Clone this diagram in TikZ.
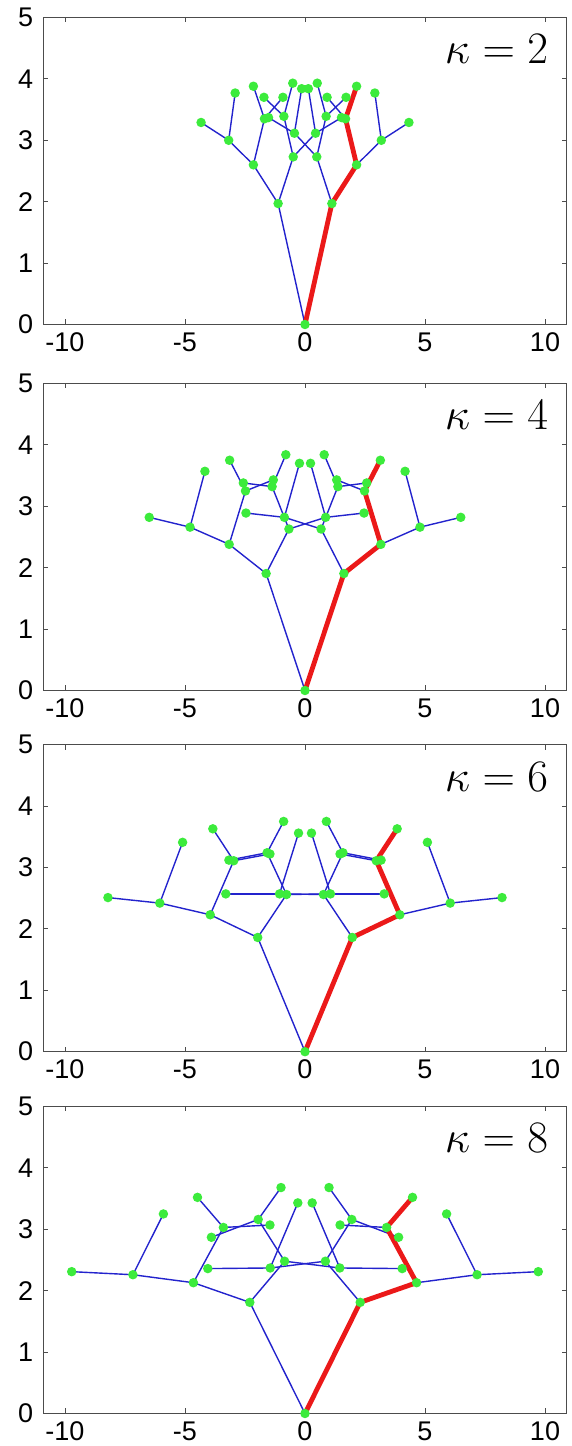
\RequirePackage{fix-cm}
\documentclass[tikz,border=0pt]{standalone}
\usepackage{fontspec}
\setmainfont{Liberation Sans}
\definecolor{treeblue}{RGB}{35,35,205}
\definecolor{treered}{RGB}{235,25,25}
\definecolor{treegreen}{RGB}{60,235,60}
\tikzset{
  blueline/.style={draw=treeblue, line width=1.4pt},
  redline/.style={draw=treered, line width=4.8pt, line join=round, line cap=round},
  dot/.style={circle, fill=treegreen, inner sep=0pt, minimum size=9.5pt},
  axisbox/.style={draw=black!70, line width=0.9pt},
  tickline/.style={draw=black!70, line width=0.8pt},
  ticklab/.style={inner sep=0pt, font=\fontsize{27}{30}\selectfont},
  kappalab/.style={inner sep=0pt, font=\fontsize{45}{50}\selectfont, anchor=base east},
}
\newcommand{\treepanel}[4]{%
\begin{scope}[shift={(305,#2)}, x=24pt, y=61.4pt]
  \draw[axisbox] (-10.9,0) rectangle (10.9,5);
  \foreach \t in {-10,-5,0,5,10}{
    \draw[tickline] (\t,0) -- ++(0,5pt);
    \draw[tickline] (\t,5) -- ++(0,-5pt);
    \node[ticklab, anchor=north] at ([yshift=-8pt]\t,0) {\t};
  }
  \foreach \t in {0,...,5}{
    \draw[tickline] (-10.9,\t) -- ++(5pt,0);
    \draw[tickline] (10.9,\t) -- ++(-5pt,0);
    \node[ticklab, anchor=east] at ([xshift=-10pt]-10.9,\t) {\t};
  }
  \node[kappalab] (#1lab) at (10.14,4.243) {$\kappa = #3$};
  \coordinate (#1R) at (0,0);
  \foreach \n/\xx/\yy in {#4}{
    \coordinate (#1A\n) at (\xx,\yy);
    \coordinate (#1B\n) at ({-1*(\xx)},\yy);
  }
  \foreach \s in {A,B}{
    \draw[blueline] (#1R) -- (#1\s r);
    \foreach \p/\c in {r/1,r/2,1/11,1/12,2/21,2/22,11/111,11/112,12/121,12/122,21/211,21/212,22/221,22/222}{
      \draw[blueline] (#1\s\p) -- (#1\s\c);
    }
  }
  \draw[redline] (#1R) -- (#1Br) -- (#1B1) -- (#1B12) -- (#1B121);
  \node[dot] (#1Rd) at (#1R) {};
  \foreach \s in {A,B}{
    \foreach \n in {r,1,2,11,12,21,22,111,112,121,122,211,212,221,222}{
      \node[dot] (#1\s\n d) at (#1\s\n) {};
    }
  }
\end{scope}}
\begin{document}
\begin{tikzpicture}[x=1pt,y=1pt]
\useasboundingbox (0,0) rectangle (571,1446);
\treepanel{a}{1121.5}{2}{r/-1.12/1.97, 1/-2.15/2.60, 11/-3.18/3.00, 111/-4.33/3.29, 112/-2.91/3.77, 12/-1.69/3.35, 121/-2.15/3.88, 122/-0.92/3.70, 2/-0.49/2.73, 21/0.44/3.115, 211/1.52/3.37, 212/0.14/3.84, 22/-0.88/3.39, 221/-1.71/3.70, 222/-0.51/3.93}
\treepanel{b}{755.5}{4}{r/-1.62/1.905, 1/-3.16/2.38, 11/-4.79/2.66, 111/-6.49/2.82, 112/-4.17/3.57, 12/-2.48/3.25, 121/-3.14/3.75, 122/-1.32/3.43, 2/-0.67/2.63, 21/0.86/2.82, 211/2.46/2.89, 212/0.23/3.70, 22/-1.37/3.32, 221/-2.57/3.38, 222/-0.8/3.84}
\treepanel{c}{394.3}{6}{r/-1.97/1.86, 1/-3.95/2.23, 11/-6.05/2.42, 111/-8.21/2.51, 112/-5.1/3.41, 12/-2.97/3.11, 121/-3.84/3.63, 122/-1.46/3.22, 2/-0.77/2.56, 21/1.06/2.57, 211/3.3/2.57, 212/0.27/3.56, 22/-1.58/3.24, 221/-3.17/3.12, 222/-0.89/3.75}
\treepanel{d}{32.5}{8}{r/-2.3/1.81, 1/-4.65/2.13, 11/-7.17/2.26, 111/-9.72/2.31, 112/-5.9/3.25, 12/-3.4/3.03, 121/-4.48/3.52, 122/-1.46/3.07, 2/-0.85/2.48, 21/1.45/2.37, 211/4.05/2.36, 212/0.3/3.43, 22/-1.95/3.16, 221/-3.9/2.87, 222/-1.0/3.68}
\end{tikzpicture}
\end{document}
